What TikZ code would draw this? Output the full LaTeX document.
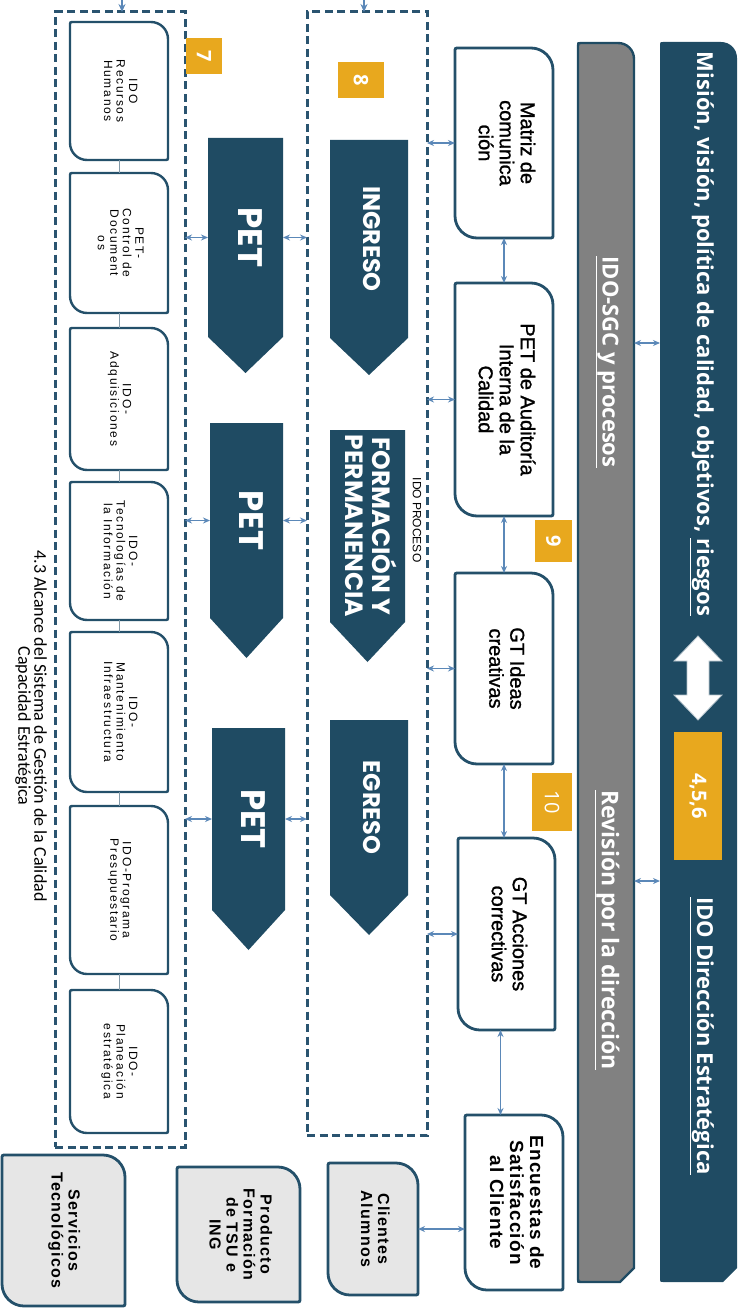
\documentclass[tikz,border=0pt]{standalone}
\usepackage{fontspec}
\setmainfont{Liberation Sans}
\newfontfamily\osfont{Open Sans}
\newfontfamily\popfont{Poppins}
\newfontfamily\carlfont{Carlito}
\usepackage{graphicx}
\usetikzlibrary{calc,arrows.meta,backgrounds}

\definecolor{cdark}{HTML}{1F4B63}
\definecolor{cbord}{HTML}{24506A}
\definecolor{cdash}{HTML}{2A5470}
\definecolor{carrow}{HTML}{5B88B8}
\definecolor{cyel}{HTML}{E8A81E}
\definecolor{cgray}{HTML}{818181}
\definecolor{cfill}{HTML}{E6E6E6}
\definecolor{cline}{HTML}{8299A8}

\newcommand\rtxt[1]{\rotatebox{-90}{\begin{tabular}{@{}c@{}}#1\end{tabular}}}

% box with large rounded top-right and bottom-left corners
\newcommand\cornbox[3][22]{%
 \begin{pgfonlayer}{background}
 \path[#3] ($(#2.north west)+(4,0)$) -- ($(#2.north east)+(-#1,0)$)
   .. controls ($(#2.north east)+(-0.45*#1,0)$) and ($(#2.north east)+(0,0.45*#1)$) .. ($(#2.north east)+(0,#1)$)
   -- ($(#2.south east)+(0,-4)$) .. controls (#2.south east) .. ($(#2.south east)+(-4,0)$)
   -- ($(#2.south west)+(#1,0)$) .. controls ($(#2.south west)+(0.45*#1,0)$) and ($(#2.south west)+(0,-0.45*#1)$) .. ($(#2.south west)+(0,-#1)$)
   -- ($(#2.north west)+(0,4)$) .. controls (#2.north west) .. ($(#2.north west)+(4,0)$) -- cycle;
 \end{pgfonlayer}}

% bar: rounded top-right, cut bottom-right
\newcommand\barshape[2]{%
 \begin{pgfonlayer}{background}
 \path[#2] ($(#1.north west)+(3,0)$) -- ($(#1.north east)+(-16,0)$)
   .. controls ($(#1.north east)+(-7,0)$) and ($(#1.north east)+(0,7)$) .. ($(#1.north east)+(0,16)$)
   -- ($(#1.south east)+(0,-14)$) -- ($(#1.south east)+(-14,0)$)
   -- ($(#1.south west)+(3,0)$) .. controls (#1.south west) .. ($(#1.south west)+(0,-3)$)
   -- ($(#1.north west)+(0,3)$) .. controls (#1.north west) .. ($(#1.north west)+(3,0)$) -- cycle;
 \end{pgfonlayer}}

% downward chevron
\newcommand\chevshape[2]{%
 \begin{pgfonlayer}{background}
 \fill[cdark] (#1.north west) -- (#1.north east) -- (#1.south east)
   -- ($(#1.south)+(0,#2)$) -- (#1.south west) -- cycle;
 \end{pgfonlayer}}

\begin{document}
\begin{tikzpicture}[x=1pt,y=-1pt,
  every node/.style={inner sep=0pt, outer sep=0pt},
  boxline/.style={draw=cbord, line width=2.8pt, fill=white},
  lboxline/.style={draw=cbord, line width=2.4pt, fill=white},
  gboxline/.style={draw=cbord, line width=2.8pt, fill=cfill},
  dbox/.style={draw=cdash, line width=3pt, dash pattern=on 8pt off 4.5pt},
  conn/.style={{Stealth[length=7pt,width=6pt]}-{Stealth[length=7pt,width=6pt]}, draw=carrow, line width=1.3pt},
  down/.style={-{Stealth[length=8pt,width=7pt]}, draw=carrow, line width=1.3pt},
  tie/.style={draw=cline, line width=0.8pt},
  ybox/.style={fill=cyel, text=white, font=\osfont\bfseries\fontsize{20}{20}\selectfont},
  ltext/.style={font=\fontsize{12}{12.5}\selectfont\addfontfeature{LetterSpace=14}},
  ctext/.style={font=\fontsize{20}{21}\selectfont\addfontfeature{FakeBold=1.2}},
  etext/.style={font=\bfseries\fontsize{19}{20}\selectfont\addfontfeature{LetterSpace=6}},
  btext/.style={font=\bfseries\fontsize{16}{17}\selectfont\addfontfeature{LetterSpace=8}},
  chtext/.style={text=white, font=\popfont\bfseries\fontsize{24}{27}\selectfont},
  pettext/.style={text=white, font=\popfont\bfseries\fontsize{34}{36}\selectfont},
  bartext/.style={text=white, rotate=-90, font=\osfont\bfseries\fontsize{22}{24}\selectfont},
]
\useasboundingbox (0,0) rectangle (740,1308);
\begin{pgfonlayer}{background}
\fill[white] (0,0) rectangle (740,1308);
\end{pgfonlayer}

% ---------- right bars ----------
\node[minimum width=77pt, minimum height=1240pt] (mbar) at (698.5,662) {};
\barshape{mbar}{fill=cdark}
\node[minimum width=56pt, minimum height=1239pt] (gbar) at (606,662.5) {};
\barshape{gbar}{fill=cgray, draw=cdark, line width=2.4pt}

\node[bartext] (mis) at (702,334) {Misión, visión, política de calidad, objetivos, \underline{riesgos}};
\node[bartext] (dir) at (702,1036) {\underline{IDO Dirección Estratégica}};
\node[ybox, minimum width=48pt, minimum height=128pt] (n456) at (698,796) {\rotatebox{-90}{4,5,6}};
\filldraw[fill=white, draw=cline!60, line width=0.8pt] (698,636) -- (722,661) -- (709,661) -- (709,695)
  -- (722,695) -- (698,720) -- (674,695) -- (687,695) -- (687,661) -- (674,661) -- cycle;

\node[bartext] (sgc) at (607,362) {\underline{IDO-SGC y procesos}};
\node[bartext, font=\osfont\bfseries\fontsize{23}{24}\selectfont] (rev) at (607,930) {\underline{Revisión por la dirección}};

\coordinate (h1) at (0,343);
\coordinate (h2) at (0,881);
\draw[conn] (gbar.east |- h1) -- (mbar.west |- h1);
\draw[conn] (gbar.east |- h2) -- (mbar.west |- h2);

% ---------- column 3 ----------
\node[minimum width=98pt, minimum height=190pt, ctext] (matriz) at (504,143) {\rtxt{Matriz de\\comunica\\ción}};
\cornbox{matriz}{boxline}
\node[minimum width=98pt, minimum height=233pt, ctext] (aud) at (504,399.5) {\rtxt{PET de Auditoría\\Interna de la\\Calidad}};
\cornbox{aud}{boxline}
\node[minimum width=98pt, minimum height=191pt, ctext] (gti) at (504,668.5) {\rtxt{GT Ideas\\creativas}};
\cornbox{gti}{boxline}
\node[minimum width=97pt, minimum height=192pt, ctext] (gta) at (506.5,934) {\rtxt{GT Acciones\\correctivas}};
\cornbox{gta}{boxline}
\node[minimum width=98pt, minimum height=175pt, etext] (enc) at (514,1202.5) {\rtxt{Encuestas de\\Satisfacción\\al Cliente}};
\cornbox{enc}{boxline}

\draw[conn] (matriz.south) -- (aud.north);
\draw[conn] (aud.south) -- (gti.north);
\draw[conn] (gti.south) -- (gti.south |- gta.north);
\coordinate (g4) at ([xshift=-6pt]gta.south);
\draw[conn] (g4) -- (g4 |- enc.north);

\node[ybox, minimum width=37pt, minimum height=42pt] (n9) at (553.5,541) {\rotatebox{-90}{9}};
\node[ybox, minimum width=40pt, minimum height=58pt, font=\osfont\fontsize{20}{20}\selectfont] (n10) at (552,802) {\rotatebox{-90}{10}};

% ---------- IDO PROCESO box ----------
\node[dbox, minimum width=120pt, minimum height=1123pt] (box8) at (367,573.5) {};
\coordinate (t8) at (364,-1);
\draw[down] (t8) -- (t8 |- box8.north);
\node[ybox, minimum width=46pt, minimum height=36pt] (n8) at (361,80) {\rotatebox{-90}{8}};
\node[rotate=-90, font=\fontsize{12}{12}\selectfont] (idop) at (417,520) {IDO PROCESO};

\node[minimum width=78pt, minimum height=198pt, chtext] (ing) at (369,239) {\rtxt{INGRESO}};
\chevshape{ing}{37}
\node[minimum width=75pt, minimum height=192pt, chtext, font=\popfont\bfseries\fontsize{25}{27}\selectfont] (form) at (367.5,526) {\rtxt{FORMACIÓN Y\\PERMANENCIA}};
\chevshape{form}{40}
\node[minimum width=78pt, minimum height=175pt, chtext] (egr) at (369,807.5) {\rtxt{EGRESO}};
\chevshape{egr}{40}

\node[minimum width=75pt, minimum height=199pt, pettext] (pet1) at (245.5,237.5) {\rtxt{PET}};
\chevshape{pet1}{36}
\node[minimum width=73pt, minimum height=195pt, pettext] (pet2) at (246.5,520.5) {\rtxt{PET}};
\chevshape{pet2}{40}
\node[minimum width=73pt, minimum height=182pt, pettext] (pet3) at (248.5,819) {\rtxt{PET}};
\chevshape{pet3}{40}

% ---------- left box ----------
\node[dbox, minimum width=130pt, minimum height=1135pt] (box7) at (120,579.5) {};
\coordinate (t7) at (122,-1);
\draw[down] (t7) -- (t7 |- box7.north);
\node[ybox, minimum width=36pt, minimum height=36pt] (n7) at (204,56) {\rotatebox{-90}{7}};

\foreach \p in {pet1,pet2,pet3} {
  \draw[conn] (box7.east |- \p.west) -- (\p.west);
  \draw[conn] (\p.east) -- (box8.west |- \p.east);
}
\foreach \b in {matriz,aud,gti,gta} {
  \draw[conn] (box8.east |- \b.west) -- (\b.west);
}

\node[minimum width=98pt, minimum height=138pt, ltext] (b1) at (119,91) {\rtxt{IDO\\Recursos\\Humanos}};
\cornbox[17]{b1}{lboxline}
\node[minimum width=98pt, minimum height=140pt, ltext] (b2) at (119,243) {\rtxt{PET-\\Control de\\Document\\os}};
\cornbox[17]{b2}{lboxline}
\node[minimum width=98pt, minimum height=142pt, ltext] (b3) at (119,399) {\rtxt{IDO-\\Adquisiciones}};
\cornbox[17]{b3}{lboxline}
\node[minimum width=98pt, minimum height=138pt, ltext] (b4) at (119,551) {\rtxt{IDO-\\Tecnologías de\\la Información}};
\cornbox[17]{b4}{lboxline}
\node[minimum width=98pt, minimum height=160pt, ltext] (b5) at (119,712) {\rtxt{IDO-\\Mantenimiento\\Infraestructura}};
\cornbox[17]{b5}{lboxline}
\node[minimum width=98pt, minimum height=168pt, ltext] (b6) at (119,890) {\rtxt{IDO-Programa\\Presupuestario}};
\cornbox[17]{b6}{lboxline}
\node[minimum width=98pt, minimum height=143pt, ltext] (b7) at (119,1061.5) {\rtxt{IDO-\\Planeación\\estratégica}};
\cornbox[17]{b7}{lboxline}
\draw[tie] (b1.south) -- (b2.north);
\draw[tie] (b2.south) -- (b3.north);
\draw[tie] (b3.south) -- (b4.north);
\draw[tie] (b4.south) -- (b5.north);
\draw[tie] (b5.south) -- (b6.north);
\draw[tie] (b6.south) -- (b7.north);

\node[rotate=-90, font=\carlfont\fontsize{18}{16}\selectfont, align=center] (cap) at (31,726)
  {4.3 Alcance del Sistema de Gestión de la Calidad\\Capacidad Estratégica};

% ---------- bottom boxes ----------
\node[minimum width=90pt, minimum height=132pt, btext] (cli) at (373,1229) {\rtxt{Clientes\\Alumnos}};
\cornbox{cli}{gboxline}
\node[minimum width=123pt, minimum height=135pt, btext] (prod) at (238.5,1234.5) {\rtxt{Producto\\Formación\\de TSU e\\ING}};
\cornbox{prod}{gboxline}
\node[minimum width=123pt, minimum height=151pt, btext] (serv) at (63.5,1230.5) {\rtxt{Servicios\\Tecnológicos}};
\cornbox{serv}{gboxline}
\draw[conn] (cli.east) -- (enc.west |- cli.east);
\end{tikzpicture}
\end{document}
